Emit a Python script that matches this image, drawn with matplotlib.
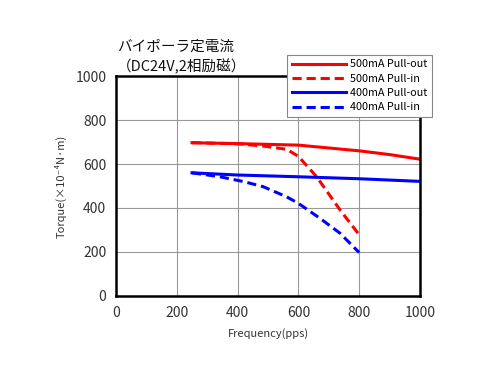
import matplotlib
matplotlib.use("Agg")
import matplotlib.pyplot as plt

plt.rcParams["font.family"] = ["Noto Sans CJK JP", "DejaVu Sans"]

# 500mA curves
freq_500_out = [250, 400, 600, 800, 900, 1000]
torque_500_out = [697, 693, 686, 660, 643, 622]
freq_500_in = [250, 400, 484, 561, 600, 660, 737, 800]
torque_500_in = [697, 692, 682, 667, 635, 542, 391, 278]

# 400mA curves
freq_400_out = [250, 400, 600, 800, 1000]
torque_400_out = [560, 550, 542, 533, 521]
freq_400_in = [250, 342, 420, 484, 561, 600, 671, 737, 800]
torque_400_in = [560, 542, 520, 497, 451, 421, 353, 285, 197]

fig = plt.figure(figsize=(5, 3.75), dpi=100)
ax = fig.add_axes([0.232, 0.211, 0.608, 0.586])

ax.plot(freq_500_out, torque_500_out, color="#ff0000", lw=2.2, label="500mA Pull-out")
ax.plot(freq_500_in, torque_500_in, color="#ff0000", lw=2.2, ls=(0, (3, 1.6)), label="500mA Pull-in")
ax.plot(freq_400_out, torque_400_out, color="#0000ff", lw=2.2, label="400mA Pull-out")
ax.plot(freq_400_in, torque_400_in, color="#0000ff", lw=2.2, ls=(0, (3, 1.6)), label="400mA Pull-in")

ax.set_xlim(0, 1000)
ax.set_ylim(0, 1000)
ax.set_xticks(range(0, 1001, 200))
ax.set_yticks(range(0, 1001, 200))
ax.tick_params(length=0, labelsize=10, colors="#333333", pad=7)
ax.grid(True, color="#999999", lw=0.8)
for s in ax.spines.values():
    s.set_linewidth(1.8)
    s.set_color("black")

ax.set_xlabel("Frequency(pps)", fontsize=8, color="#333333", labelpad=6)
ax.set_ylabel("Torque(×10⁻⁴N·m)", fontsize=8, color="#333333", labelpad=6)

fig.text(0.234, 0.875, "バイポーラ定電流", fontsize=10.5, color="#111111", va="center")
fig.text(0.234, 0.822, "（DC24V,2相励磁）", fontsize=10.5, color="#111111", va="center")

leg = ax.legend(loc="upper left", bbox_to_anchor=(0.562, 1.098), fontsize=7.8,
                frameon=True, fancybox=False, edgecolor="#888888", framealpha=1,
                handlelength=5.0, borderpad=0.45, labelspacing=0.4, handletextpad=0.4,
                borderaxespad=0)
leg.get_frame().set_linewidth(0.8)

fig.savefig("out.png", dpi=100)
